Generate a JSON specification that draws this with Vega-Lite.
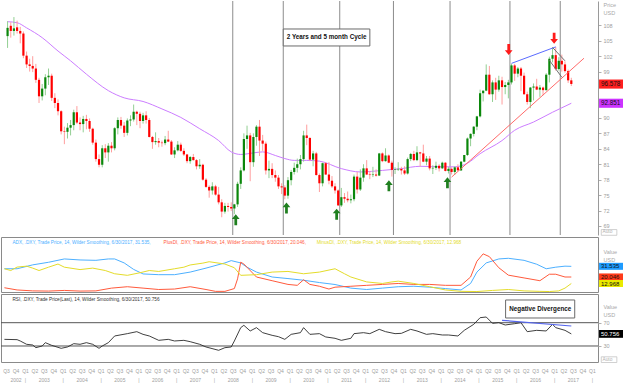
{
"$schema": "https://vega.github.io/schema/vega-lite/v6.json",
"padding": 0,
"background": "white",
"spacing": 2,
"bounds": "flush",
"resolve": {"scale": {"color": "independent", "fill": "independent"}},
"config": {"view": {"stroke": null}, "font": "Liberation Sans", "axis": {"grid": false},
 "axisY": {"labelColor":"#a0a0a0","labelFontSize":5.5,"tickColor":"#b0b0b0","tickSize":3,"labelPadding":2,"titleAngle":0,"titleAlign":"left","titleBaseline":"top","titleX":5,"titleFontSize":5.5,"titleFontWeight":"normal","titleColor":"#a8a8a8","titleLineHeight":8},
 "axisX": {"labelFontSize":5,"labelColor":"#a0a0a0","labelLineHeight":9,"labelPadding":6,"ticks":false,"domain":false,"labelOverlap":false,"labelFlush":false,"labelBound":false}},
"datasets": {
"candles": [
{"d":"2002-07","o":105.9,"h":108.8,"l":103.6,"c":107.5},{"d":"2002-08","o":107.9,"h":108.6,"l":105.6,"c":106.9},{"d":"2002-09","o":106.9,"h":109.6,"l":106.0,"c":107.4},{"d":"2002-10","o":107.6,"h":108.9,"l":106.4,"c":106.9},{"d":"2002-11","o":106.9,"h":107.7,"l":104.5,"c":106.4},{"d":"2002-12","o":106.4,"h":106.8,"l":101.6,"c":102.1},
{"d":"2003-01","o":102.1,"h":102.9,"l":99.7,"c":100.4},{"d":"2003-02","o":100.4,"h":101.5,"l":99.0,"c":100.1},{"d":"2003-03","o":100.1,"h":102.0,"l":98.9,"c":99.6},{"d":"2003-04","o":99.6,"h":100.5,"l":96.8,"c":97.4},{"d":"2003-05","o":97.4,"h":97.8,"l":92.9,"c":94.2},{"d":"2003-06","o":94.2,"h":96.6,"l":93.4,"c":95.7},{"d":"2003-07","o":95.7,"h":98.5,"l":94.4,"c":97.9},{"d":"2003-08","o":97.9,"h":99.6,"l":96.4,"c":98.2},{"d":"2003-09","o":98.2,"h":98.6,"l":93.3,"c":93.9},{"d":"2003-10","o":93.9,"h":94.8,"l":91.9,"c":92.9},{"d":"2003-11","o":92.9,"h":93.6,"l":90.5,"c":91.3},{"d":"2003-12","o":91.3,"h":91.5,"l":86.8,"c":87.4},
{"d":"2004-01","o":87.4,"h":88.3,"l":84.9,"c":87.3},{"d":"2004-02","o":87.3,"h":89.0,"l":86.0,"c":88.1},{"d":"2004-03","o":88.1,"h":89.6,"l":86.6,"c":88.6},{"d":"2004-04","o":88.6,"h":91.6,"l":87.6,"c":91.1},{"d":"2004-05","o":91.1,"h":92.3,"l":88.8,"c":89.1},{"d":"2004-06","o":89.1,"h":90.1,"l":87.6,"c":88.8},{"d":"2004-07","o":88.8,"h":90.4,"l":87.2,"c":89.8},{"d":"2004-08","o":89.8,"h":90.6,"l":87.8,"c":89.4},{"d":"2004-09","o":89.4,"h":89.9,"l":87.3,"c":87.9},{"d":"2004-10","o":87.9,"h":88.1,"l":84.8,"c":85.2},{"d":"2004-11","o":85.2,"h":85.8,"l":81.5,"c":82.0},{"d":"2004-12","o":82.0,"h":82.9,"l":80.4,"c":80.9},
{"d":"2005-01","o":80.9,"h":84.7,"l":80.4,"c":84.1},{"d":"2005-02","o":84.1,"h":84.9,"l":82.2,"c":83.3},{"d":"2005-03","o":83.3,"h":85.1,"l":81.5,"c":84.6},{"d":"2005-04","o":84.6,"h":85.3,"l":83.3,"c":84.1},{"d":"2005-05","o":84.1,"h":88.2,"l":83.7,"c":88.0},{"d":"2005-06","o":88.0,"h":90.1,"l":86.8,"c":89.6},{"d":"2005-07","o":89.6,"h":90.2,"l":87.9,"c":88.5},{"d":"2005-08","o":88.5,"h":89.2,"l":86.3,"c":87.1},{"d":"2005-09","o":87.1,"h":89.9,"l":86.6,"c":89.5},{"d":"2005-10","o":89.5,"h":90.5,"l":88.4,"c":89.7},{"d":"2005-11","o":89.7,"h":92.6,"l":89.3,"c":91.2},{"d":"2005-12","o":91.2,"h":91.4,"l":88.6,"c":90.8},
{"d":"2006-01","o":90.8,"h":91.2,"l":88.0,"c":89.4},{"d":"2006-02","o":89.4,"h":91.0,"l":88.9,"c":90.5},{"d":"2006-03","o":90.5,"h":91.3,"l":88.9,"c":89.6},{"d":"2006-04","o":89.6,"h":90.0,"l":86.2,"c":86.3},{"d":"2006-05","o":86.3,"h":86.5,"l":84.0,"c":85.3},{"d":"2006-06","o":85.3,"h":87.2,"l":84.8,"c":85.5},{"d":"2006-07","o":85.5,"h":86.1,"l":84.3,"c":85.2},{"d":"2006-08","o":85.2,"h":85.6,"l":84.4,"c":85.1},{"d":"2006-09","o":85.1,"h":86.5,"l":84.7,"c":85.8},{"d":"2006-10","o":85.8,"h":87.5,"l":85.3,"c":85.4},{"d":"2006-11","o":85.4,"h":85.7,"l":82.8,"c":82.9},{"d":"2006-12","o":82.9,"h":84.3,"l":82.2,"c":83.7},
{"d":"2007-01","o":83.7,"h":85.5,"l":83.5,"c":84.8},{"d":"2007-02","o":84.8,"h":85.2,"l":83.4,"c":83.6},{"d":"2007-03","o":83.6,"h":84.1,"l":82.6,"c":82.9},{"d":"2007-04","o":82.9,"h":83.0,"l":81.2,"c":81.6},{"d":"2007-05","o":81.6,"h":82.6,"l":81.1,"c":82.4},{"d":"2007-06","o":82.4,"h":83.0,"l":81.7,"c":81.8},{"d":"2007-07","o":81.8,"h":82.0,"l":80.0,"c":80.6},{"d":"2007-08","o":80.6,"h":82.0,"l":80.1,"c":80.9},{"d":"2007-09","o":80.9,"h":81.1,"l":77.8,"c":78.0},{"d":"2007-10","o":78.0,"h":78.3,"l":76.4,"c":76.6},{"d":"2007-11","o":76.6,"h":76.9,"l":74.5,"c":75.9},{"d":"2007-12","o":75.9,"h":77.5,"l":75.1,"c":76.7},
{"d":"2008-01","o":76.7,"h":77.0,"l":74.9,"c":75.1},{"d":"2008-02","o":75.1,"h":76.6,"l":73.2,"c":73.6},{"d":"2008-03","o":73.6,"h":74.2,"l":70.7,"c":71.8},{"d":"2008-04","o":71.8,"h":73.5,"l":71.4,"c":72.9},{"d":"2008-05","o":72.9,"h":73.5,"l":71.8,"c":72.7},{"d":"2008-06","o":72.7,"h":73.6,"l":71.9,"c":72.4},{"d":"2008-07","o":72.4,"h":73.3,"l":71.3,"c":73.2},{"d":"2008-08","o":73.2,"h":77.6,"l":72.7,"c":77.2},{"d":"2008-09","o":77.2,"h":80.4,"l":76.2,"c":79.8},{"d":"2008-10","o":79.8,"h":87.0,"l":79.6,"c":85.9},{"d":"2008-11","o":85.9,"h":88.5,"l":84.0,"c":86.6},{"d":"2008-12","o":86.6,"h":87.1,"l":77.7,"c":81.4},
{"d":"2009-01","o":81.4,"h":87.0,"l":80.5,"c":86.3},{"d":"2009-02","o":86.3,"h":88.6,"l":84.6,"c":88.3},{"d":"2009-03","o":88.3,"h":89.6,"l":82.6,"c":85.6},{"d":"2009-04","o":85.6,"h":86.7,"l":83.6,"c":85.0},{"d":"2009-05","o":85.0,"h":85.4,"l":79.0,"c":79.8},{"d":"2009-06","o":79.8,"h":81.7,"l":78.3,"c":80.1},{"d":"2009-07","o":80.1,"h":81.2,"l":78.3,"c":78.9},{"d":"2009-08","o":78.9,"h":79.8,"l":77.6,"c":78.4},{"d":"2009-09","o":78.4,"h":78.9,"l":76.2,"c":76.7},{"d":"2009-10","o":76.7,"h":77.3,"l":75.2,"c":76.5},{"d":"2009-11","o":76.5,"h":76.9,"l":74.2,"c":74.9},{"d":"2009-12","o":74.9,"h":78.5,"l":74.3,"c":77.9},
{"d":"2010-01","o":77.9,"h":79.9,"l":76.9,"c":79.5},{"d":"2010-02","o":79.5,"h":81.3,"l":79.0,"c":80.3},{"d":"2010-03","o":80.3,"h":82.1,"l":79.4,"c":81.0},{"d":"2010-04","o":81.0,"h":82.8,"l":80.0,"c":82.0},{"d":"2010-05","o":82.0,"h":87.5,"l":81.5,"c":86.6},{"d":"2010-06","o":86.6,"h":88.7,"l":84.7,"c":86.1},{"d":"2010-07","o":86.1,"h":86.3,"l":81.6,"c":81.9},{"d":"2010-08","o":81.9,"h":83.6,"l":80.6,"c":83.1},{"d":"2010-09","o":83.1,"h":83.4,"l":78.8,"c":78.9},{"d":"2010-10","o":78.9,"h":79.2,"l":75.6,"c":77.3},{"d":"2010-11","o":77.3,"h":81.3,"l":76.7,"c":81.2},{"d":"2010-12","o":81.2,"h":81.4,"l":78.9,"c":79.0},
{"d":"2011-01","o":79.0,"h":81.4,"l":77.1,"c":77.8},{"d":"2011-02","o":77.8,"h":78.7,"l":76.4,"c":76.7},{"d":"2011-03","o":76.7,"h":77.3,"l":75.3,"c":75.9},{"d":"2011-04","o":75.9,"h":76.1,"l":72.9,"c":73.0},{"d":"2011-05","o":73.0,"h":76.4,"l":72.7,"c":74.6},{"d":"2011-06","o":74.6,"h":75.4,"l":73.5,"c":74.3},{"d":"2011-07","o":74.3,"h":75.7,"l":73.6,"c":74.0},{"d":"2011-08","o":74.0,"h":75.1,"l":73.4,"c":74.2},{"d":"2011-09","o":74.2,"h":79.0,"l":73.8,"c":78.6},{"d":"2011-10","o":78.6,"h":79.5,"l":75.3,"c":76.1},{"d":"2011-11","o":76.1,"h":80.0,"l":75.8,"c":78.4},{"d":"2011-12","o":78.4,"h":81.0,"l":77.6,"c":80.2},
{"d":"2012-01","o":80.2,"h":81.8,"l":78.9,"c":79.0},{"d":"2012-02","o":79.0,"h":79.7,"l":78.1,"c":78.9},{"d":"2012-03","o":78.9,"h":80.5,"l":78.5,"c":79.0},{"d":"2012-04","o":79.0,"h":80.0,"l":78.6,"c":78.8},{"d":"2012-05","o":78.8,"h":83.2,"l":78.7,"c":83.1},{"d":"2012-06","o":83.1,"h":83.3,"l":81.4,"c":81.6},{"d":"2012-07","o":81.6,"h":84.1,"l":81.5,"c":82.7},{"d":"2012-08","o":82.7,"h":82.9,"l":81.2,"c":81.3},{"d":"2012-09","o":81.3,"h":81.7,"l":78.6,"c":79.9},{"d":"2012-10","o":79.9,"h":80.4,"l":79.1,"c":80.0},{"d":"2012-11","o":80.0,"h":81.4,"l":79.7,"c":80.1},{"d":"2012-12","o":80.1,"h":80.5,"l":79.0,"c":79.8},
{"d":"2013-01","o":79.8,"h":80.6,"l":78.9,"c":79.2},{"d":"2013-02","o":79.2,"h":82.3,"l":79.0,"c":82.0},{"d":"2013-03","o":82.0,"h":83.2,"l":81.6,"c":83.0},{"d":"2013-04","o":83.0,"h":83.6,"l":81.6,"c":81.8},{"d":"2013-05","o":81.8,"h":84.5,"l":81.6,"c":83.3},{"d":"2013-06","o":83.3,"h":83.4,"l":80.5,"c":83.1},{"d":"2013-07","o":83.1,"h":84.8,"l":81.4,"c":81.5},{"d":"2013-08","o":81.5,"h":82.6,"l":80.8,"c":82.1},{"d":"2013-09","o":82.1,"h":82.6,"l":79.8,"c":80.2},{"d":"2013-10","o":80.2,"h":80.8,"l":79.1,"c":80.3},{"d":"2013-11","o":80.3,"h":81.5,"l":79.9,"c":80.7},{"d":"2013-12","o":80.7,"h":81.0,"l":79.6,"c":80.2},
{"d":"2014-01","o":80.2,"h":81.5,"l":80.1,"c":81.3},{"d":"2014-02","o":81.3,"h":81.4,"l":79.6,"c":79.7},{"d":"2014-03","o":79.7,"h":80.5,"l":79.2,"c":80.1},{"d":"2014-04","o":80.1,"h":80.4,"l":79.0,"c":79.5},{"d":"2014-05","o":79.5,"h":80.6,"l":78.9,"c":80.4},{"d":"2014-06","o":80.4,"h":81.0,"l":79.8,"c":79.8},{"d":"2014-07","o":79.8,"h":81.6,"l":79.7,"c":81.5},{"d":"2014-08","o":81.5,"h":82.8,"l":81.4,"c":82.8},{"d":"2014-09","o":82.8,"h":86.2,"l":82.6,"c":86.0},{"d":"2014-10","o":86.0,"h":87.0,"l":84.5,"c":86.9},{"d":"2014-11","o":86.9,"h":88.4,"l":86.4,"c":88.3},{"d":"2014-12","o":88.3,"h":90.4,"l":87.6,"c":90.3},
{"d":"2015-01","o":90.3,"h":95.5,"l":90.1,"c":94.8},{"d":"2015-02","o":94.8,"h":95.3,"l":93.2,"c":95.3},{"d":"2015-03","o":95.3,"h":100.4,"l":95.2,"c":98.4},{"d":"2015-04","o":98.4,"h":100.1,"l":94.5,"c":94.6},{"d":"2015-05","o":94.6,"h":97.3,"l":93.1,"c":96.9},{"d":"2015-06","o":96.9,"h":97.8,"l":93.5,"c":95.5},{"d":"2015-07","o":95.5,"h":98.2,"l":95.1,"c":97.3},{"d":"2015-08","o":97.3,"h":98.0,"l":92.6,"c":96.0},{"d":"2015-09","o":96.0,"h":97.0,"l":94.6,"c":96.4},{"d":"2015-10","o":96.4,"h":97.4,"l":93.8,"c":96.9},{"d":"2015-11","o":96.9,"h":100.5,"l":96.5,"c":100.2},{"d":"2015-12","o":100.2,"h":100.5,"l":97.2,"c":98.6},
{"d":"2016-01","o":98.6,"h":99.9,"l":97.9,"c":99.6},{"d":"2016-02","o":99.6,"h":99.9,"l":95.2,"c":98.2},{"d":"2016-03","o":98.2,"h":98.8,"l":94.5,"c":94.6},{"d":"2016-04","o":94.6,"h":95.1,"l":92.6,"c":93.1},{"d":"2016-05","o":93.1,"h":96.0,"l":91.9,"c":95.9},{"d":"2016-06","o":95.9,"h":96.7,"l":93.4,"c":96.1},{"d":"2016-07","o":96.1,"h":97.6,"l":95.4,"c":95.5},{"d":"2016-08","o":95.5,"h":96.4,"l":94.1,"c":95.9},{"d":"2016-09","o":95.9,"h":96.1,"l":94.4,"c":95.4},{"d":"2016-10","o":95.4,"h":98.7,"l":95.3,"c":98.4},{"d":"2016-11","o":98.4,"h":101.9,"l":96.9,"c":101.5},{"d":"2016-12","o":101.5,"h":103.6,"l":100.8,"c":102.2},
{"d":"2017-01","o":102.2,"h":103.8,"l":99.2,"c":99.5},{"d":"2017-02","o":99.5,"h":101.8,"l":99.2,"c":101.1},{"d":"2017-03","o":101.1,"h":102.3,"l":99.0,"c":100.4},{"d":"2017-04","o":100.4,"h":101.0,"l":98.8,"c":99.1},{"d":"2017-05","o":99.1,"h":99.4,"l":96.8,"c":97.3},{"d":"2017-06","o":97.3,"h":97.8,"l":96.2,"c":96.6}
],
"ma": [{"d":"2002-07","v":108.7},{"d":"2002-10","v":108.5},{"d":"2003-01","v":107.5},{"d":"2003-06","v":105.6},{"d":"2003-11","v":103.0},{"d":"2004-03","v":101.1},{"d":"2004-08","v":98.5},{"d":"2005-03","v":95.3},{"d":"2005-08","v":93.9},{"d":"2006-02","v":93.2},{"d":"2006-08","v":91.75},{"d":"2007-02","v":90.1},{"d":"2007-08","v":87.9},{"d":"2008-02","v":85.6},{"d":"2008-06","v":83.4},{"d":"2008-09","v":82.9},{"d":"2009-01","v":83.2},{"d":"2009-04","v":83.4},{"d":"2009-08","v":82.7},{"d":"2009-11","v":82.1},{"d":"2010-02","v":81.75},{"d":"2010-06","v":81.75},{"d":"2010-10","v":81.6},{"d":"2011-05","v":80.15},{"d":"2011-11","v":79.5},{"d":"2012-06","v":79.8},{"d":"2012-12","v":80.15},{"d":"2013-06","v":80.6},{"d":"2014-01","v":80.5},{"d":"2014-05","v":80.5},{"d":"2014-09","v":81.2},{"d":"2015-01","v":83.05},{"d":"2015-08","v":85.6},{"d":"2015-12","v":87.6},{"d":"2016-06","v":89.2},{"d":"2016-12","v":91.1},{"d":"2017-06","v":92.85}],
"tl": [{"d":"2014-04","v":78.5,"s":"trend"},{"d":"2017-10","v":101.6,"s":"trend"},{"d":"2015-11","v":100.6,"s":"peak"},{"d":"2017-01","v":103.8,"s":"peak"},{"d":"2016-12","v":103.7,"s":"flag1"},{"d":"2017-04","v":101.1,"s":"flag1"},{"d":"2016-11","v":101.2,"s":"flag2"},{"d":"2017-03","v":97.9,"s":"flag2"}],
"cyc": [{"d":"2008-07"},{"d":"2009-11"},{"d":"2011-05"},{"d":"2012-10"},{"d":"2014-04"},{"d":"2015-11"},{"d":"2017-03"}],
"arrows": [{"d":"2008-07-30","v":70.2,"dir":"up"},{"d":"2009-12-02","v":72.5,"dir":"up"},{"d":"2011-04-01","v":71.3,"dir":"up"},{"d":"2012-08-18","v":76.8,"dir":"up"},{"d":"2014-03-07","v":77.4,"dir":"up"},{"d":"2015-10-20","v":103.3,"dir":"down"},{"d":"2017-01-01","v":105.5,"dir":"down"}],
"note": [{"x1":"2009-11-01","x2":"2012-02-16","y1":107.28,"y2":103.98,"xm":"2010-12-25","ym":105.63,"t":"2 Years and 5 month Cycle"}],
"tags": [{"d":"2018-03-01","v":96.578,"t":"96.578","k":"last"},{"d":"2018-03-01","v":92.851,"t":"92.851","k":"ma"}],
"auto1": [{"d":"2018-03-01","v":67.75,"t":"Auto"}],
"adx": [
{"d":"2002-06","v":28.9,"s":"ADX"},{"d":"2002-10","v":28.9,"s":"ADX"},{"d":"2003-03","v":33.1,"s":"ADX"},{"d":"2003-08","v":35.9,"s":"ADX"},{"d":"2004-01","v":39.5,"s":"ADX"},{"d":"2004-06","v":38.4,"s":"ADX"},{"d":"2004-11","v":38.0,"s":"ADX"},{"d":"2005-03","v":39.5,"s":"ADX"},{"d":"2005-05","v":39.5,"s":"ADX"},{"d":"2005-08","v":35.2,"s":"ADX"},{"d":"2005-11","v":28.2,"s":"ADX"},{"d":"2006-02","v":23.3,"s":"ADX"},{"d":"2006-07","v":22.5,"s":"ADX"},{"d":"2006-12","v":22.5,"s":"ADX"},{"d":"2007-05","v":25.3,"s":"ADX"},{"d":"2007-10","v":29.6,"s":"ADX"},{"d":"2008-04","v":35.2,"s":"ADX"},{"d":"2008-06","v":37.7,"s":"ADX"},{"d":"2008-09","v":35.2,"s":"ADX"},{"d":"2008-11","v":30.6,"s":"ADX"},{"d":"2009-02","v":25.3,"s":"ADX"},{"d":"2009-07","v":20.0,"s":"ADX"},{"d":"2009-12","v":18.3,"s":"ADX"},{"d":"2010-05","v":16.5,"s":"ADX"},{"d":"2010-10","v":14.0,"s":"ADX"},{"d":"2011-03","v":11.9,"s":"ADX"},{"d":"2011-08","v":8.0,"s":"ADX"},{"d":"2012-01","v":6.5,"s":"ADX"},{"d":"2012-06","v":8.0,"s":"ADX"},{"d":"2012-11","v":9.5,"s":"ADX"},{"d":"2013-04","v":10.0,"s":"ADX"},{"d":"2013-09","v":9.0,"s":"ADX"},{"d":"2014-02","v":7.5,"s":"ADX"},{"d":"2014-07","v":6.0,"s":"ADX"},{"d":"2014-10","v":13.0,"s":"ADX"},{"d":"2014-12","v":25.3,"s":"ADX"},{"d":"2015-03","v":35.2,"s":"ADX"},{"d":"2015-07","v":39.5,"s":"ADX"},{"d":"2015-10","v":40.2,"s":"ADX"},{"d":"2016-03","v":38.0,"s":"ADX"},{"d":"2016-07","v":33.8,"s":"ADX"},{"d":"2016-10","v":28.9,"s":"ADX"},{"d":"2017-01","v":30.6,"s":"ADX"},{"d":"2017-04","v":31.7,"s":"ADX"},{"d":"2017-06","v":31.5,"s":"ADX"},
{"d":"2002-06","v":8.4,"s":"PlusDI"},{"d":"2002-10","v":6.0,"s":"PlusDI"},{"d":"2003-03","v":5.0,"s":"PlusDI"},{"d":"2003-08","v":4.8,"s":"PlusDI"},{"d":"2004-01","v":5.5,"s":"PlusDI"},{"d":"2004-06","v":4.8,"s":"PlusDI"},{"d":"2004-11","v":5.0,"s":"PlusDI"},{"d":"2005-04","v":8.0,"s":"PlusDI"},{"d":"2005-09","v":9.5,"s":"PlusDI"},{"d":"2006-02","v":8.0,"s":"PlusDI"},{"d":"2006-07","v":6.5,"s":"PlusDI"},{"d":"2006-12","v":7.0,"s":"PlusDI"},{"d":"2007-05","v":9.5,"s":"PlusDI"},{"d":"2007-10","v":6.5,"s":"PlusDI"},{"d":"2008-01","v":4.5,"s":"PlusDI"},{"d":"2008-04","v":4.5,"s":"PlusDI"},{"d":"2008-07","v":7.5,"s":"PlusDI"},{"d":"2008-08","v":18,"s":"PlusDI"},{"d":"2008-09","v":36,"s":"PlusDI"},{"d":"2008-10","v":34,"s":"PlusDI"},{"d":"2009-02","v":20,"s":"PlusDI"},{"d":"2009-07","v":16,"s":"PlusDI"},{"d":"2009-12","v":12,"s":"PlusDI"},{"d":"2010-03","v":11,"s":"PlusDI"},{"d":"2010-05","v":17,"s":"PlusDI"},{"d":"2010-07","v":12,"s":"PlusDI"},{"d":"2010-10","v":10,"s":"PlusDI"},{"d":"2011-01","v":7,"s":"PlusDI"},{"d":"2011-03","v":9,"s":"PlusDI"},{"d":"2011-08","v":10,"s":"PlusDI"},{"d":"2012-01","v":11,"s":"PlusDI"},{"d":"2012-06","v":12,"s":"PlusDI"},{"d":"2012-11","v":13,"s":"PlusDI"},{"d":"2013-04","v":12,"s":"PlusDI"},{"d":"2013-09","v":12,"s":"PlusDI"},{"d":"2014-02","v":11,"s":"PlusDI"},{"d":"2014-07","v":11,"s":"PlusDI"},{"d":"2014-10","v":20,"s":"PlusDI"},{"d":"2014-12","v":37,"s":"PlusDI"},{"d":"2015-02","v":45,"s":"PlusDI"},{"d":"2015-04","v":42,"s":"PlusDI"},{"d":"2015-07","v":30,"s":"PlusDI"},{"d":"2015-10","v":22,"s":"PlusDI"},{"d":"2016-03","v":19,"s":"PlusDI"},{"d":"2016-08","v":16,"s":"PlusDI"},{"d":"2016-11","v":23,"s":"PlusDI"},{"d":"2017-01","v":23,"s":"PlusDI"},{"d":"2017-04","v":20,"s":"PlusDI"},{"d":"2017-06","v":20.0,"s":"PlusDI"},
{"d":"2002-06","v":28.9,"s":"MinusDI"},{"d":"2002-08","v":27,"s":"MinusDI"},{"d":"2002-10","v":30.7,"s":"MinusDI"},{"d":"2003-01","v":31.7,"s":"MinusDI"},{"d":"2003-03","v":29.6,"s":"MinusDI"},{"d":"2003-05","v":27,"s":"MinusDI"},{"d":"2003-08","v":30.6,"s":"MinusDI"},{"d":"2003-11","v":34,"s":"MinusDI"},{"d":"2004-01","v":30.6,"s":"MinusDI"},{"d":"2004-06","v":28,"s":"MinusDI"},{"d":"2004-10","v":29.6,"s":"MinusDI"},{"d":"2005-02","v":27,"s":"MinusDI"},{"d":"2005-05","v":23.5,"s":"MinusDI"},{"d":"2005-09","v":21.8,"s":"MinusDI"},{"d":"2006-01","v":24.6,"s":"MinusDI"},{"d":"2006-04","v":27,"s":"MinusDI"},{"d":"2006-07","v":26,"s":"MinusDI"},{"d":"2006-12","v":28.9,"s":"MinusDI"},{"d":"2007-03","v":30.6,"s":"MinusDI"},{"d":"2007-05","v":33,"s":"MinusDI"},{"d":"2007-09","v":35,"s":"MinusDI"},{"d":"2007-11","v":36.5,"s":"MinusDI"},{"d":"2008-04","v":34,"s":"MinusDI"},{"d":"2008-07","v":30,"s":"MinusDI"},{"d":"2008-09","v":21.8,"s":"MinusDI"},{"d":"2009-02","v":22.5,"s":"MinusDI"},{"d":"2009-07","v":25.3,"s":"MinusDI"},{"d":"2009-12","v":26,"s":"MinusDI"},{"d":"2010-05","v":23.5,"s":"MinusDI"},{"d":"2010-10","v":25.3,"s":"MinusDI"},{"d":"2011-03","v":28.9,"s":"MinusDI"},{"d":"2011-06","v":23.5,"s":"MinusDI"},{"d":"2011-08","v":20,"s":"MinusDI"},{"d":"2012-01","v":14.7,"s":"MinusDI"},{"d":"2012-06","v":13,"s":"MinusDI"},{"d":"2012-09","v":14.7,"s":"MinusDI"},{"d":"2012-11","v":15.5,"s":"MinusDI"},{"d":"2013-04","v":13,"s":"MinusDI"},{"d":"2013-09","v":9.5,"s":"MinusDI"},{"d":"2014-02","v":6,"s":"MinusDI"},{"d":"2014-07","v":4.5,"s":"MinusDI"},{"d":"2014-12","v":4.3,"s":"MinusDI"},{"d":"2015-05","v":5.5,"s":"MinusDI"},{"d":"2015-10","v":6.5,"s":"MinusDI"},{"d":"2016-03","v":5.0,"s":"MinusDI"},{"d":"2016-08","v":4.5,"s":"MinusDI"},{"d":"2016-11","v":4.3,"s":"MinusDI"},{"d":"2017-02","v":5.0,"s":"MinusDI"},{"d":"2017-04","v":8.0,"s":"MinusDI"},{"d":"2017-06","v":12.97,"s":"MinusDI"}
],
"adxleg": [{"d":"2002-09-01","v":57,"s":"ADX","t":"ADX, .DXY, Trade Price,  14, Wilder Smoothing, 6/30/2017, 31.535,"},{"d":"2006-09-01","v":57,"s":"PlusDI","t":"PlusDI, .DXY, Trade Price,  14, Wilder Smoothing, 6/30/2017, 20.046,"},{"d":"2010-09-20","v":57,"s":"MinusDI","t":"MinusDI, .DXY, Trade Price,  14, Wilder Smoothing, 6/30/2017, 12.968"}],
"adxtags": [{"d":"2018-03-01","v":31.535,"t":"31.535","s":"ADX"},{"d":"2018-03-01","v":20.046,"t":"20.046","s":"PlusDI"},{"d":"2018-03-01","v":12.968,"t":"12.968","s":"MinusDI"}],
"rsi": [{"d":"2002-06","v":41.4},{"d":"2002-10","v":40.9},{"d":"2002-11","v":38.6},{"d":"2003-01","v":32.9},{"d":"2003-03","v":31.7},{"d":"2003-04","v":27.1},{"d":"2003-06","v":30.0},{"d":"2003-07","v":35.7},{"d":"2003-09","v":31.1},{"d":"2003-12","v":26.0},{"d":"2004-02","v":28.3},{"d":"2004-04","v":34.0},{"d":"2004-06","v":32.9},{"d":"2004-08","v":35.7},{"d":"2004-10","v":32.9},{"d":"2004-12","v":26.0},{"d":"2005-01","v":30.0},{"d":"2005-03","v":35.7},{"d":"2005-05","v":47.2},{"d":"2005-09","v":51.2},{"d":"2005-12","v":54.6},{"d":"2006-02","v":50.0},{"d":"2006-04","v":47.2},{"d":"2006-07","v":39.7},{"d":"2006-10","v":41.4},{"d":"2006-12","v":38.6},{"d":"2007-03","v":39.7},{"d":"2007-05","v":37.4},{"d":"2007-08","v":32.9},{"d":"2007-10","v":28.3},{"d":"2008-02","v":22.6},{"d":"2008-04","v":27.1},{"d":"2008-06","v":28.3},{"d":"2008-07","v":38.6},{"d":"2008-09","v":61.5},{"d":"2008-10","v":65.5},{"d":"2008-12","v":55.8},{"d":"2009-02","v":61.5},{"d":"2009-04","v":52.9},{"d":"2009-07","v":48.3},{"d":"2009-09","v":46.0},{"d":"2009-11","v":41.4},{"d":"2010-01","v":50.0},{"d":"2010-04","v":52.9},{"d":"2010-05","v":61.5},{"d":"2010-07","v":50.0},{"d":"2010-10","v":51.2},{"d":"2010-12","v":45.5},{"d":"2011-03","v":43.2},{"d":"2011-05","v":39.7},{"d":"2011-08","v":43.2},{"d":"2011-09","v":51.2},{"d":"2011-12","v":52.9},{"d":"2012-02","v":51.2},{"d":"2012-05","v":58.6},{"d":"2012-07","v":54.6},{"d":"2012-10","v":51.2},{"d":"2012-12","v":51.7},{"d":"2013-03","v":58.6},{"d":"2013-05","v":55.8},{"d":"2013-08","v":50.0},{"d":"2013-10","v":51.2},{"d":"2014-01","v":48.9},{"d":"2014-03","v":48.9},{"d":"2014-06","v":47.2},{"d":"2014-08","v":56.9},{"d":"2014-11","v":67.2},{"d":"2015-01","v":78.6},{"d":"2015-03","v":79.8},{"d":"2015-05","v":68.9},{"d":"2015-07","v":70.1},{"d":"2015-09","v":66.1},{"d":"2015-12","v":68.3},{"d":"2016-02","v":70.1},{"d":"2016-04","v":54.6},{"d":"2016-07","v":56.9},{"d":"2016-10","v":55.8},{"d":"2016-12","v":67.2},{"d":"2017-01","v":61.5},{"d":"2017-04","v":56.9},{"d":"2017-06","v":50.76}],
"levels": [{"v":70},{"v":30}],
"div": [{"d":"2015-08","v":74.1},{"d":"2017-06","v":64.3}],
"negnote": [{"x1":"2015-09-20","x2":"2017-07-19","y1":109.0,"y2":78.1,"xm":"2016-08-20","ym":93.5,"t":"Negative Divergence"}],
"rsileg": [{"d":"2002-09-01","v":109.5,"t":"RSI, .DXY, Trade Price(Last),  14, Wilder Smoothing, 6/30/2017, 50.756"}],
"rsitag": [{"d":"2018-03-01","v":50.756,"t":"50.756"}],
"auto3": [{"d":"2018-03-01","v":6.5,"t":"Auto"}]
},
"vconcat": [
{
"width": 597, "height": 234,
"layer": [
{"data":{"name":"cyc"},"mark":{"type":"rule","color":"#8c8c8c","strokeWidth":1},"encoding":{"x":{"field":"d","type":"temporal","scale":{"type":"utc","domain":[{"year":2002,"month":5,"date":14,"utc":true},{"year":2018,"month":3,"date":1,"utc":true}],"nice":false},"axis":null}}},
{"data":{"name":"ma"},"mark":{"type":"line","color":"#cc7dff","strokeWidth":1,"interpolate":"monotone"},"encoding":{"x":{"field":"d","type":"temporal","timeUnit":"utcyearmonth","bandPosition":0.5,"scale":{"type":"utc","domain":[{"year":2002,"month":5,"date":14,"utc":true},{"year":2018,"month":3,"date":1,"utc":true}],"nice":false},"axis":null},"y":{"field":"v","type":"quantitative","scale":{"domain":[67.25,112.72],"nice":false,"zero":false},"axis":{"orient":"right","values":[69,72,75,78,81,84,87,90,99,102,105,108],"domainColor":"#9a9a9a","title":["Price","USD"],"titleY":1}}}},
{"data":{"name":"candles"},"mark":{"type":"rule","strokeWidth":1},"encoding":{"x":{"field":"d","type":"temporal","timeUnit":"utcyearmonth","bandPosition":0.5,"scale":{"type":"utc","domain":[{"year":2002,"month":5,"date":14,"utc":true},{"year":2018,"month":3,"date":1,"utc":true}],"nice":false},"axis":null},"y":{"field":"l","type":"quantitative","scale":{"domain":[67.25,112.72],"nice":false,"zero":false},"axis":{"orient":"right","values":[69,72,75,78,81,84,87,90,99,102,105,108],"domainColor":"#9a9a9a","title":["Price","USD"],"titleY":1}},"y2":{"field":"h"},"color":{"condition":{"test":"datum.c >= datum.o","value":"#93cf93"},"value":"#ff9e9e"}}},
{"data":{"name":"candles"},"mark":{"type":"rule","strokeWidth":2.2},"encoding":{"x":{"field":"d","type":"temporal","timeUnit":"utcyearmonth","bandPosition":0.5,"scale":{"type":"utc","domain":[{"year":2002,"month":5,"date":14,"utc":true},{"year":2018,"month":3,"date":1,"utc":true}],"nice":false},"axis":null},"y":{"field":"o","type":"quantitative","scale":{"domain":[67.25,112.72],"nice":false,"zero":false},"axis":{"orient":"right","values":[69,72,75,78,81,84,87,90,99,102,105,108],"domainColor":"#9a9a9a","title":["Price","USD"],"titleY":1}},"y2":{"field":"c"},"color":{"condition":{"test":"datum.c >= datum.o","value":"#0b870b"},"value":"#ff0000"}}},
{"data":{"name":"tl"},"mark":{"type":"line","strokeWidth":1},"encoding":{"x":{"field":"d","type":"temporal","timeUnit":"utcyearmonth","bandPosition":0.5,"scale":{"type":"utc","domain":[{"year":2002,"month":5,"date":14,"utc":true},{"year":2018,"month":3,"date":1,"utc":true}],"nice":false},"axis":null},"y":{"field":"v","type":"quantitative","scale":{"domain":[67.25,112.72],"nice":false,"zero":false},"axis":{"orient":"right","values":[69,72,75,78,81,84,87,90,99,102,105,108],"domainColor":"#9a9a9a","title":["Price","USD"],"titleY":1}},"detail":{"field":"s"},"color":{"field":"s","type":"nominal","scale":{"domain":["trend","peak","flag1","flag2"],"range":["#ff6a6a","#5a6bff","#6e6e6e","#6e6e6e"]},"legend":null}}},
{"data":{"name":"arrows"},"transform":[{"filter":"datum.dir == 'up'"}],"mark":{"type":"point","filled":true,"shape":"M0,-1L0.7,-0.15L0.25,-0.15L0.25,1L-0.25,1L-0.25,-0.15L-0.7,-0.15Z","size":121,"color":"#1f7f1f","opacity":1,"strokeWidth":0},"encoding":{"x":{"field":"d","type":"temporal","scale":{"type":"utc","domain":[{"year":2002,"month":5,"date":14,"utc":true},{"year":2018,"month":3,"date":1,"utc":true}],"nice":false},"axis":null},"y":{"field":"v","type":"quantitative","scale":{"domain":[67.25,112.72],"nice":false,"zero":false},"axis":{"orient":"right","values":[69,72,75,78,81,84,87,90,99,102,105,108],"domainColor":"#9a9a9a","title":["Price","USD"],"titleY":1}}}},
{"data":{"name":"arrows"},"transform":[{"filter":"datum.dir == 'down'"}],"mark":{"type":"point","filled":true,"shape":"M0,1L0.7,0.15L0.25,0.15L0.25,-1L-0.25,-1L-0.25,0.15L-0.7,0.15Z","size":121,"color":"#ff1a1a","opacity":1,"strokeWidth":0},"encoding":{"x":{"field":"d","type":"temporal","scale":{"type":"utc","domain":[{"year":2002,"month":5,"date":14,"utc":true},{"year":2018,"month":3,"date":1,"utc":true}],"nice":false},"axis":null},"y":{"field":"v","type":"quantitative","scale":{"domain":[67.25,112.72],"nice":false,"zero":false},"axis":{"orient":"right","values":[69,72,75,78,81,84,87,90,99,102,105,108],"domainColor":"#9a9a9a","title":["Price","USD"],"titleY":1}}}},
{"data":{"name":"note"},"mark":{"type":"rect","fill":"white","stroke":"#6a6a6a","strokeWidth":1},"encoding":{"x":{"field":"x1","type":"temporal","scale":{"type":"utc","domain":[{"year":2002,"month":5,"date":14,"utc":true},{"year":2018,"month":3,"date":1,"utc":true}],"nice":false},"axis":null},"x2":{"field":"x2"},"y":{"field":"y1","type":"quantitative","scale":{"domain":[67.25,112.72],"nice":false,"zero":false},"axis":{"orient":"right","values":[69,72,75,78,81,84,87,90,99,102,105,108],"domainColor":"#9a9a9a","title":["Price","USD"],"titleY":1}},"y2":{"field":"y2"}}},
{"data":{"name":"note"},"mark":{"type":"text","fontSize":6.3,"fontWeight":"bold","color":"#111111","align":"center","baseline":"middle"},"encoding":{"x":{"field":"xm","type":"temporal","scale":{"type":"utc","domain":[{"year":2002,"month":5,"date":14,"utc":true},{"year":2018,"month":3,"date":1,"utc":true}],"nice":false},"axis":null},"y":{"field":"ym","type":"quantitative","scale":{"domain":[67.25,112.72],"nice":false,"zero":false},"axis":{"orient":"right","values":[69,72,75,78,81,84,87,90,99,102,105,108],"domainColor":"#9a9a9a","title":["Price","USD"],"titleY":1}},"text":{"field":"t"}}},
{"data":{"name":"tags"},"mark":{"type":"point","filled":true,"shape":"M0.08,-0.35H2V0.35H0.08Z","size":676,"opacity":1,"strokeWidth":0},"encoding":{"x":{"field":"d","type":"temporal","scale":{"type":"utc","domain":[{"year":2002,"month":5,"date":14,"utc":true},{"year":2018,"month":3,"date":1,"utc":true}],"nice":false},"axis":null},"y":{"field":"v","type":"quantitative","scale":{"domain":[67.25,112.72],"nice":false,"zero":false},"axis":{"orient":"right","values":[69,72,75,78,81,84,87,90,99,102,105,108],"domainColor":"#9a9a9a","title":["Price","USD"],"titleY":1}},"fill":{"field":"k","type":"nominal","scale":{"domain":["last","ma"],"range":["#ff1f1f","#cc33ff"]},"legend":null}}},
{"data":{"name":"tags"},"mark":{"type":"text","align":"left","baseline":"middle","dx":3,"fontSize":6.3,"color":"#111111"},"encoding":{"x":{"field":"d","type":"temporal","scale":{"type":"utc","domain":[{"year":2002,"month":5,"date":14,"utc":true},{"year":2018,"month":3,"date":1,"utc":true}],"nice":false},"axis":null},"y":{"field":"v","type":"quantitative","scale":{"domain":[67.25,112.72],"nice":false,"zero":false},"axis":{"orient":"right","values":[69,72,75,78,81,84,87,90,99,102,105,108],"domainColor":"#9a9a9a","title":["Price","USD"],"titleY":1}},"text":{"field":"t"}}},
{"data":{"name":"auto1"},"mark":{"type":"point","filled":false,"shape":"M0.25,-0.22H1.45V0.22H0.25Z","size":676,"opacity":1,"strokeWidth":0.8,"color":"#c4c4c4"},"encoding":{"x":{"field":"d","type":"temporal","scale":{"type":"utc","domain":[{"year":2002,"month":5,"date":14,"utc":true},{"year":2018,"month":3,"date":1,"utc":true}],"nice":false},"axis":null},"y":{"field":"v","type":"quantitative","scale":{"domain":[67.25,112.72],"nice":false,"zero":false},"axis":{"orient":"right","values":[69,72,75,78,81,84,87,90,99,102,105,108],"domainColor":"#9a9a9a","title":["Price","USD"],"titleY":1}}}},
{"data":{"name":"auto1"},"mark":{"type":"text","align":"left","baseline":"middle","dx":4.5,"fontSize":4.8,"color":"#b0b0b0"},"encoding":{"x":{"field":"d","type":"temporal","scale":{"type":"utc","domain":[{"year":2002,"month":5,"date":14,"utc":true},{"year":2018,"month":3,"date":1,"utc":true}],"nice":false},"axis":null},"y":{"field":"v","type":"quantitative","scale":{"domain":[67.25,112.72],"nice":false,"zero":false},"axis":{"orient":"right","values":[69,72,75,78,81,84,87,90,99,102,105,108],"domainColor":"#9a9a9a","title":["Price","USD"],"titleY":1}},"text":{"field":"t"}}}
]
},
{
"width": 597, "height": 55,
"view": {"stroke": "#8a8a8a"},
"layer": [
{"data":{"name":"adx"},"mark":{"type":"line","strokeWidth":1},"encoding":{"x":{"field":"d","type":"temporal","timeUnit":"utcyearmonth","bandPosition":0.5,"scale":{"type":"utc","domain":[{"year":2002,"month":5,"date":14,"utc":true},{"year":2018,"month":3,"date":1,"utc":true}],"nice":false},"axis":null},"y":{"field":"v","type":"quantitative","scale":{"domain":[3.8,63.2],"nice":false,"zero":false},"axis":{"orient":"right","labels":false,"ticks":false,"domain":false,"title":["Value","USD"],"titleY":12}},"color":{"field":"s","type":"nominal","scale":{"domain":["ADX","PlusDI","MinusDI"],"range":["#4db0ff","#ff5a3c","#e4dc2a"]},"legend":null},"detail":{"field":"s"}}},
{"data":{"name":"adxleg"},"mark":{"type":"text","align":"left","baseline":"middle","fontSize":4.7},"encoding":{"x":{"field":"d","type":"temporal","scale":{"type":"utc","domain":[{"year":2002,"month":5,"date":14,"utc":true},{"year":2018,"month":3,"date":1,"utc":true}],"nice":false},"axis":null},"y":{"field":"v","type":"quantitative","scale":{"domain":[3.8,63.2],"nice":false,"zero":false},"axis":{"orient":"right","labels":false,"ticks":false,"domain":false,"title":["Value","USD"],"titleY":12}},"text":{"field":"t"},"color":{"field":"s","type":"nominal","scale":{"domain":["ADX","PlusDI","MinusDI"],"range":["#3d9cf0","#ff4020","#d8d000"]},"legend":null}}},
{"data":{"name":"adxtags"},"mark":{"type":"point","filled":true,"shape":"M0.08,-0.27H2V0.27H0.08Z","size":676,"opacity":1,"strokeWidth":0},"encoding":{"x":{"field":"d","type":"temporal","scale":{"type":"utc","domain":[{"year":2002,"month":5,"date":14,"utc":true},{"year":2018,"month":3,"date":1,"utc":true}],"nice":false},"axis":null},"y":{"field":"v","type":"quantitative","scale":{"domain":[3.8,63.2],"nice":false,"zero":false},"axis":{"orient":"right","labels":false,"ticks":false,"domain":false,"title":["Value","USD"],"titleY":12}},"fill":{"field":"s","type":"nominal","scale":{"domain":["ADX","PlusDI","MinusDI"],"range":["#1e9bff","#ff3b1a","#eaea00"]},"legend":null}}},
{"data":{"name":"adxtags"},"mark":{"type":"text","align":"left","baseline":"middle","dx":3,"fontSize":6,"color":"#111111"},"encoding":{"x":{"field":"d","type":"temporal","scale":{"type":"utc","domain":[{"year":2002,"month":5,"date":14,"utc":true},{"year":2018,"month":3,"date":1,"utc":true}],"nice":false},"axis":null},"y":{"field":"v","type":"quantitative","scale":{"domain":[3.8,63.2],"nice":false,"zero":false},"axis":{"orient":"right","labels":false,"ticks":false,"domain":false,"title":["Value","USD"],"titleY":12}},"text":{"field":"t"}}}
]
},
{
"width": 597, "height": 68,
"view": {"stroke": "#8a8a8a"},
"layer": [
{"data":{"name":"levels"},"mark":{"type":"rule","color":"#555555","strokeWidth":1},"encoding":{"y":{"field":"v","type":"quantitative","scale":{"domain":[2.5,119.3],"nice":false,"zero":false},"axis":{"orient":"right","values":[30,70],"domain":false,"title":["Value","USD"],"titleY":10}}}},
{"data":{"name":"rsi"},"mark":{"type":"line","color":"#2a2a2a","strokeWidth":0.9},"encoding":{"x":{"field":"d","type":"temporal","timeUnit":"utcyearmonth","bandPosition":0.5,"scale":{"type":"utc","domain":[{"year":2002,"month":5,"date":14,"utc":true},{"year":2018,"month":3,"date":1,"utc":true}],"nice":false},"axis":{"orient":"bottom","tickCount":{"interval":"month","step":3},"labelExpr":"[ 'Q' + (floor(utcmonth(datum.value) / 3) + 1), utcmonth(datum.value) == 0 ? '|' : (((utcmonth(datum.value) == 6 && utcyear(datum.value) > 2002) || (utcmonth(datum.value) == 9 && utcyear(datum.value) == 2002)) ? '' + utcyear(datum.value) : '') ]","title":null}},"y":{"field":"v","type":"quantitative","scale":{"domain":[2.5,119.3],"nice":false,"zero":false},"axis":{"orient":"right","values":[30,70],"domain":false,"title":["Value","USD"],"titleY":10}}}},
{"data":{"name":"div"},"mark":{"type":"line","color":"#5566ee","strokeWidth":1.2},"encoding":{"x":{"field":"d","type":"temporal","timeUnit":"utcyearmonth","bandPosition":0.5,"scale":{"type":"utc","domain":[{"year":2002,"month":5,"date":14,"utc":true},{"year":2018,"month":3,"date":1,"utc":true}],"nice":false},"axis":{"orient":"bottom","tickCount":{"interval":"month","step":3},"labelExpr":"[ 'Q' + (floor(utcmonth(datum.value) / 3) + 1), utcmonth(datum.value) == 0 ? '|' : (((utcmonth(datum.value) == 6 && utcyear(datum.value) > 2002) || (utcmonth(datum.value) == 9 && utcyear(datum.value) == 2002)) ? '' + utcyear(datum.value) : '') ]","title":null}},"y":{"field":"v","type":"quantitative","scale":{"domain":[2.5,119.3],"nice":false,"zero":false},"axis":{"orient":"right","values":[30,70],"domain":false,"title":["Value","USD"],"titleY":10}}}},
{"data":{"name":"negnote"},"mark":{"type":"rect","fill":"white","stroke":"#6a6a6a","strokeWidth":1},"encoding":{"x":{"field":"x1","type":"temporal","scale":{"type":"utc","domain":[{"year":2002,"month":5,"date":14,"utc":true},{"year":2018,"month":3,"date":1,"utc":true}],"nice":false},"axis":{"orient":"bottom","tickCount":{"interval":"month","step":3},"labelExpr":"[ 'Q' + (floor(utcmonth(datum.value) / 3) + 1), utcmonth(datum.value) == 0 ? '|' : (((utcmonth(datum.value) == 6 && utcyear(datum.value) > 2002) || (utcmonth(datum.value) == 9 && utcyear(datum.value) == 2002)) ? '' + utcyear(datum.value) : '') ]","title":null}},"x2":{"field":"x2"},"y":{"field":"y1","type":"quantitative","scale":{"domain":[2.5,119.3],"nice":false,"zero":false},"axis":{"orient":"right","values":[30,70],"domain":false,"title":["Value","USD"],"titleY":10}},"y2":{"field":"y2"}}},
{"data":{"name":"negnote"},"mark":{"type":"text","fontSize":6.3,"fontWeight":"bold","color":"#111111","align":"center","baseline":"middle"},"encoding":{"x":{"field":"xm","type":"temporal","scale":{"type":"utc","domain":[{"year":2002,"month":5,"date":14,"utc":true},{"year":2018,"month":3,"date":1,"utc":true}],"nice":false},"axis":{"orient":"bottom","tickCount":{"interval":"month","step":3},"labelExpr":"[ 'Q' + (floor(utcmonth(datum.value) / 3) + 1), utcmonth(datum.value) == 0 ? '|' : (((utcmonth(datum.value) == 6 && utcyear(datum.value) > 2002) || (utcmonth(datum.value) == 9 && utcyear(datum.value) == 2002)) ? '' + utcyear(datum.value) : '') ]","title":null}},"y":{"field":"ym","type":"quantitative","scale":{"domain":[2.5,119.3],"nice":false,"zero":false},"axis":{"orient":"right","values":[30,70],"domain":false,"title":["Value","USD"],"titleY":10}},"text":{"field":"t"}}},
{"data":{"name":"rsileg"},"mark":{"type":"text","align":"left","baseline":"middle","fontSize":4.7,"color":"#333333"},"encoding":{"x":{"field":"d","type":"temporal","scale":{"type":"utc","domain":[{"year":2002,"month":5,"date":14,"utc":true},{"year":2018,"month":3,"date":1,"utc":true}],"nice":false},"axis":{"orient":"bottom","tickCount":{"interval":"month","step":3},"labelExpr":"[ 'Q' + (floor(utcmonth(datum.value) / 3) + 1), utcmonth(datum.value) == 0 ? '|' : (((utcmonth(datum.value) == 6 && utcyear(datum.value) > 2002) || (utcmonth(datum.value) == 9 && utcyear(datum.value) == 2002)) ? '' + utcyear(datum.value) : '') ]","title":null}},"y":{"field":"v","type":"quantitative","scale":{"domain":[2.5,119.3],"nice":false,"zero":false},"axis":{"orient":"right","values":[30,70],"domain":false,"title":["Value","USD"],"titleY":10}},"text":{"field":"t"}}},
{"data":{"name":"rsitag"},"mark":{"type":"point","filled":true,"shape":"M0.08,-0.3H2V0.3H0.08Z","size":676,"opacity":1,"strokeWidth":0,"color":"#000000"},"encoding":{"x":{"field":"d","type":"temporal","scale":{"type":"utc","domain":[{"year":2002,"month":5,"date":14,"utc":true},{"year":2018,"month":3,"date":1,"utc":true}],"nice":false},"axis":{"orient":"bottom","tickCount":{"interval":"month","step":3},"labelExpr":"[ 'Q' + (floor(utcmonth(datum.value) / 3) + 1), utcmonth(datum.value) == 0 ? '|' : (((utcmonth(datum.value) == 6 && utcyear(datum.value) > 2002) || (utcmonth(datum.value) == 9 && utcyear(datum.value) == 2002)) ? '' + utcyear(datum.value) : '') ]","title":null}},"y":{"field":"v","type":"quantitative","scale":{"domain":[2.5,119.3],"nice":false,"zero":false},"axis":{"orient":"right","values":[30,70],"domain":false,"title":["Value","USD"],"titleY":10}}}},
{"data":{"name":"rsitag"},"mark":{"type":"text","align":"left","baseline":"middle","dx":3,"fontSize":6,"color":"#ffffff"},"encoding":{"x":{"field":"d","type":"temporal","scale":{"type":"utc","domain":[{"year":2002,"month":5,"date":14,"utc":true},{"year":2018,"month":3,"date":1,"utc":true}],"nice":false},"axis":{"orient":"bottom","tickCount":{"interval":"month","step":3},"labelExpr":"[ 'Q' + (floor(utcmonth(datum.value) / 3) + 1), utcmonth(datum.value) == 0 ? '|' : (((utcmonth(datum.value) == 6 && utcyear(datum.value) > 2002) || (utcmonth(datum.value) == 9 && utcyear(datum.value) == 2002)) ? '' + utcyear(datum.value) : '') ]","title":null}},"y":{"field":"v","type":"quantitative","scale":{"domain":[2.5,119.3],"nice":false,"zero":false},"axis":{"orient":"right","values":[30,70],"domain":false,"title":["Value","USD"],"titleY":10}},"text":{"field":"t"}}},
{"data":{"name":"auto3"},"mark":{"type":"point","filled":false,"shape":"M0.25,-0.22H1.45V0.22H0.25Z","size":676,"opacity":1,"strokeWidth":0.8,"color":"#c4c4c4"},"encoding":{"x":{"field":"d","type":"temporal","scale":{"type":"utc","domain":[{"year":2002,"month":5,"date":14,"utc":true},{"year":2018,"month":3,"date":1,"utc":true}],"nice":false},"axis":{"orient":"bottom","tickCount":{"interval":"month","step":3},"labelExpr":"[ 'Q' + (floor(utcmonth(datum.value) / 3) + 1), utcmonth(datum.value) == 0 ? '|' : (((utcmonth(datum.value) == 6 && utcyear(datum.value) > 2002) || (utcmonth(datum.value) == 9 && utcyear(datum.value) == 2002)) ? '' + utcyear(datum.value) : '') ]","title":null}},"y":{"field":"v","type":"quantitative","scale":{"domain":[2.5,119.3],"nice":false,"zero":false},"axis":{"orient":"right","values":[30,70],"domain":false,"title":["Value","USD"],"titleY":10}}}},
{"data":{"name":"auto3"},"mark":{"type":"text","align":"left","baseline":"middle","dx":4.5,"fontSize":4.8,"color":"#b0b0b0"},"encoding":{"x":{"field":"d","type":"temporal","scale":{"type":"utc","domain":[{"year":2002,"month":5,"date":14,"utc":true},{"year":2018,"month":3,"date":1,"utc":true}],"nice":false},"axis":{"orient":"bottom","tickCount":{"interval":"month","step":3},"labelExpr":"[ 'Q' + (floor(utcmonth(datum.value) / 3) + 1), utcmonth(datum.value) == 0 ? '|' : (((utcmonth(datum.value) == 6 && utcyear(datum.value) > 2002) || (utcmonth(datum.value) == 9 && utcyear(datum.value) == 2002)) ? '' + utcyear(datum.value) : '') ]","title":null}},"y":{"field":"v","type":"quantitative","scale":{"domain":[2.5,119.3],"nice":false,"zero":false},"axis":{"orient":"right","values":[30,70],"domain":false,"title":["Value","USD"],"titleY":10}},"text":{"field":"t"}}}
]
}
]
}
